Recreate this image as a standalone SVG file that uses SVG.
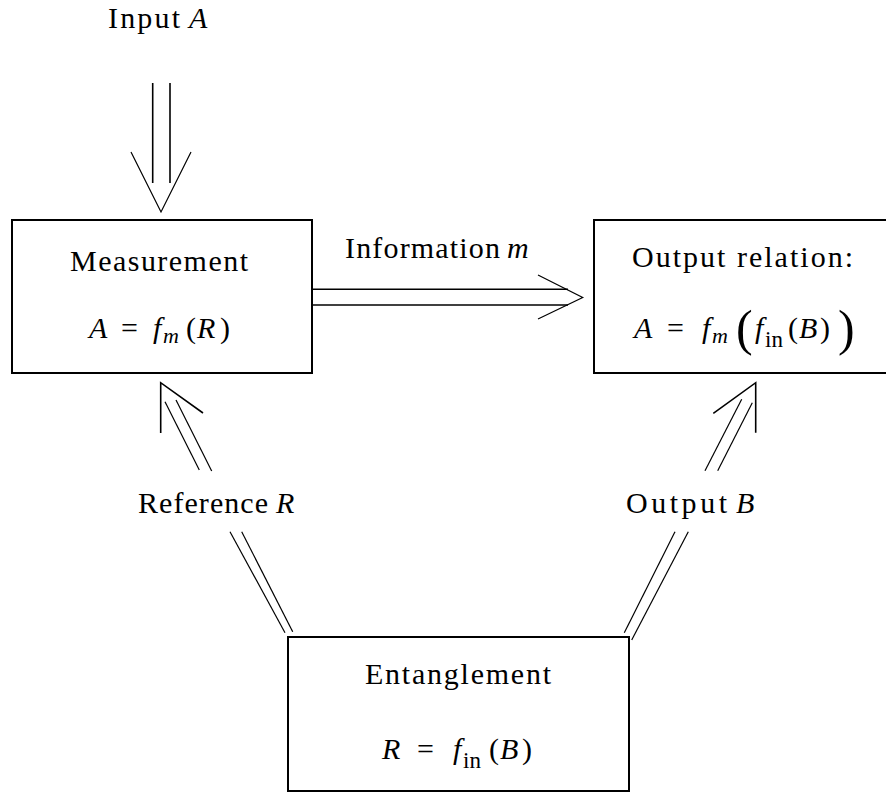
<svg xmlns="http://www.w3.org/2000/svg" width="886" height="793" viewBox="0 0 886 793">
<style>
text{font-family:'Liberation Serif','Times New Roman','DejaVu Serif',serif;font-size:30px;fill:#000}
.i{font-style:italic}
.s{font-size:22px}
.sub{font-size:23px}
.big{font-size:50px}
.box{fill:#fff;stroke:#000;stroke-width:2}
.c{fill:none;stroke:#000;stroke-width:1.6;stroke-linecap:butt}
.d{fill:none;stroke:#000;stroke-width:1.2}
</style>
<rect width="886" height="793" fill="#fff"/>
<g id="connectors">
  <line class="c" x1="152.7" y1="83" x2="152.7" y2="183"/>
  <line class="c" x1="170" y1="83" x2="170" y2="183"/>
  <polyline class="d" points="131,152 161,212 191,152"/>
  <line class="c" x1="312" y1="289.3" x2="568" y2="289.3"/>
  <line class="c" x1="312" y1="305" x2="568" y2="305"/>
  <polyline class="d" points="538,275 582.7,297.5 538,319"/>
  <polyline class="c" points="203,413 160.7,382.7 160.7,433"/>
  <line class="d" x1="165" y1="401.7" x2="199.3" y2="470"/>
  <line class="d" x1="176" y1="400" x2="211.7" y2="471"/>
  <line class="d" x1="230" y1="531.7" x2="285" y2="632.7"/>
  <line class="d" x1="241.7" y1="531.7" x2="292.7" y2="631.7"/>
  <polyline class="c" points="713.3,413.3 755.7,382.7 755.7,432.7"/>
  <line class="d" x1="741.7" y1="399.3" x2="705" y2="470.7"/>
  <line class="d" x1="752.3" y1="402.7" x2="717.7" y2="470.7"/>
  <line class="d" x1="675" y1="531.7" x2="624.3" y2="632.7"/>
  <line class="d" x1="688.3" y1="531.7" x2="631.7" y2="640"/>
</g>
<g id="label-input">
  <text y="28"><tspan x="108" textLength="72" lengthAdjust="spacing">Input</tspan><tspan class="i" x="189">A</tspan></text>
</g>
<g id="label-information">
  <text y="258"><tspan x="345" textLength="155" lengthAdjust="spacing">Information</tspan><tspan class="i" x="507">m</tspan></text>
</g>
<g id="label-reference">
  <text y="513"><tspan x="138" textLength="130" lengthAdjust="spacing">Reference</tspan><tspan class="i" x="276">R</tspan></text>
</g>
<g id="label-output">
  <text y="513"><tspan x="626" textLength="101" lengthAdjust="spacing">Output</tspan><tspan class="i" x="736">B</tspan></text>
</g>
<g id="measurement">
  <rect class="box" x="12" y="220" width="300" height="153"/>
  <text x="70" y="271" textLength="178" lengthAdjust="spacing">Measurement</text>
  <text><tspan class="i" x="89" y="338">A</tspan><tspan x="121" y="338">=</tspan><tspan class="i" x="153" y="338">f</tspan><tspan class="i s" x="163" y="343">m</tspan><tspan x="186" y="338">(</tspan><tspan class="i" x="197" y="338">R</tspan><tspan x="220" y="338">)</tspan></text>
</g>
<g id="output-relation">
  <rect class="box" x="594" y="220" width="300" height="153"/>
  <text x="632" y="267" textLength="221" lengthAdjust="spacing">Output relation:</text>
  <text><tspan class="i" x="634" y="338">A</tspan><tspan x="667" y="338">=</tspan><tspan class="i" x="702" y="338">f</tspan><tspan class="i s" x="712" y="343">m</tspan><tspan class="big" x="736" y="345">(</tspan><tspan class="i" x="755" y="338">f</tspan><tspan class="sub" x="765" y="347">in</tspan><tspan x="788" y="338">(</tspan><tspan class="i" x="799" y="338">B</tspan><tspan x="820" y="338">)</tspan><tspan class="big" x="838" y="345">)</tspan></text>
</g>
<g id="entanglement">
  <rect class="box" x="288" y="637" width="341" height="154"/>
  <text x="365" y="684" textLength="186" lengthAdjust="spacing">Entanglement</text>
  <text><tspan class="i" x="382" y="759">R</tspan><tspan x="417" y="759">=</tspan><tspan class="i" x="453" y="759">f</tspan><tspan class="sub" x="463" y="768">in</tspan><tspan x="489" y="759">(</tspan><tspan class="i" x="500" y="759">B</tspan><tspan x="522" y="759">)</tspan></text>
</g>
</svg>
